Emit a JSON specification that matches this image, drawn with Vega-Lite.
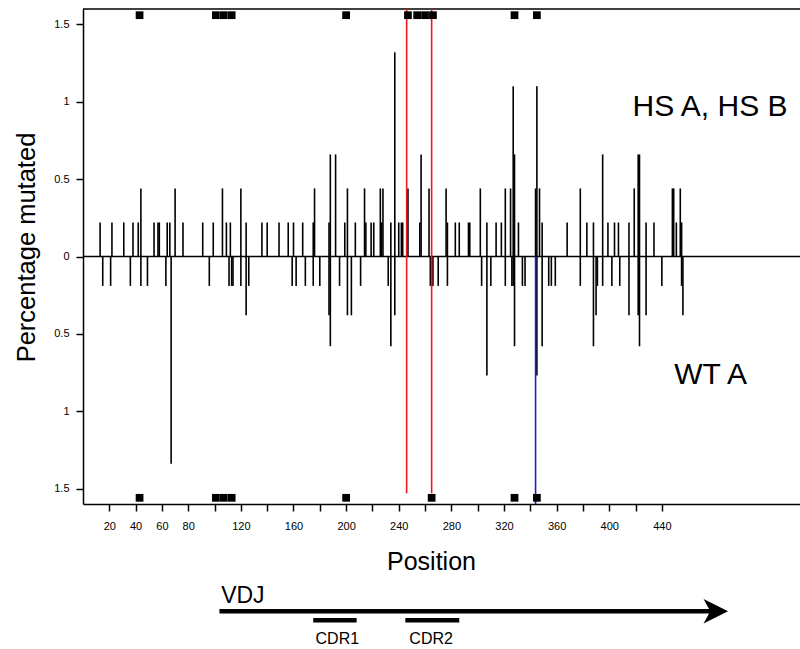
{
  "$schema": "https://vega.github.io/schema/vega-lite/v6.json",
  "width": 717,
  "height": 495,
  "autosize": {"type": "none"},
  "padding": {"left": 83, "top": 9, "right": 0, "bottom": 145},
  "background": "white",
  "config": {
    "view": {"stroke": null},
    "font": "Liberation Sans",
    "axis": {"labelFont": "Liberation Sans", "titleFont": "Liberation Sans", "grid": false, "domainColor": "black", "domainWidth": 1.5, "tickColor": "black", "tickWidth": 1.5, "tickSize": 7, "labelColor": "black", "titleColor": "black", "labelFontSize": 11, "titleFontWeight": "normal"}
  },
  "datasets": {
    "mut": [
      {"pos": 13, "val": 0.22}, {"pos": 22, "val": 0.22}, {"pos": 31, "val": 0.22}, {"pos": 38, "val": 0.22}, {"pos": 42, "val": 0.22}, {"pos": 44, "val": 0.44},
      {"pos": 54, "val": 0.22}, {"pos": 57, "val": 0.22}, {"pos": 58, "val": 0.22}, {"pos": 64, "val": 0.22}, {"pos": 66, "val": 0.22}, {"pos": 70, "val": 0.44},
      {"pos": 76, "val": 0.22}, {"pos": 91, "val": 0.22}, {"pos": 99, "val": 0.22}, {"pos": 106, "val": 0.44}, {"pos": 109, "val": 0.22}, {"pos": 112, "val": 0.22},
      {"pos": 120, "val": 0.44}, {"pos": 124, "val": 0.22}, {"pos": 136, "val": 0.22}, {"pos": 140, "val": 0.22}, {"pos": 149, "val": 0.22}, {"pos": 156, "val": 0.22},
      {"pos": 160, "val": 0.22}, {"pos": 167, "val": 0.22}, {"pos": 175, "val": 0.22}, {"pos": 176, "val": 0.44}, {"pos": 187, "val": 0.22}, {"pos": 188, "val": 0.66},
      {"pos": 192, "val": 0.66}, {"pos": 199, "val": 0.22}, {"pos": 201, "val": 0.44}, {"pos": 207, "val": 0.22}, {"pos": 214, "val": 0.44}, {"pos": 215, "val": 0.22},
      {"pos": 219, "val": 0.22}, {"pos": 221, "val": 0.22}, {"pos": 226, "val": 0.44}, {"pos": 227, "val": 0.22}, {"pos": 228, "val": 0.44}, {"pos": 234, "val": 0.22},
      {"pos": 237, "val": 1.32}, {"pos": 240, "val": 0.22}, {"pos": 242, "val": 0.22}, {"pos": 243, "val": 0.22}, {"pos": 247, "val": 0.44}, {"pos": 256, "val": 0.22},
      {"pos": 257, "val": 0.66}, {"pos": 263, "val": 0.44}, {"pos": 276, "val": 0.44}, {"pos": 277, "val": 0.22}, {"pos": 283, "val": 0.22}, {"pos": 286, "val": 0.22},
      {"pos": 293, "val": 0.22}, {"pos": 294, "val": 0.22}, {"pos": 302, "val": 0.44}, {"pos": 307, "val": 0.22}, {"pos": 314, "val": 0.22}, {"pos": 318, "val": 0.22},
      {"pos": 321, "val": 0.44}, {"pos": 325, "val": 0.44}, {"pos": 327, "val": 1.1}, {"pos": 328, "val": 0.66}, {"pos": 331, "val": 0.22}, {"pos": 344, "val": 0.44},
      {"pos": 345, "val": 1.1}, {"pos": 347, "val": 0.44}, {"pos": 349, "val": 0.22}, {"pos": 368, "val": 0.22}, {"pos": 378, "val": 0.44}, {"pos": 383, "val": 0.22},
      {"pos": 388, "val": 0.22}, {"pos": 395, "val": 0.66}, {"pos": 399, "val": 0.22}, {"pos": 404, "val": 0.22}, {"pos": 407, "val": 0.22}, {"pos": 415, "val": 0.22},
      {"pos": 419, "val": 0.44}, {"pos": 422, "val": 0.66}, {"pos": 423, "val": 0.66}, {"pos": 428, "val": 0.22}, {"pos": 434, "val": 0.22}, {"pos": 448, "val": 0.44},
      {"pos": 449, "val": 0.44}, {"pos": 451, "val": 0.22}, {"pos": 454, "val": 0.44}, {"pos": 455, "val": 0.22},
      {"pos": 15, "val": -0.19}, {"pos": 21, "val": -0.19}, {"pos": 36, "val": -0.19}, {"pos": 44, "val": -0.19}, {"pos": 49, "val": -0.19}, {"pos": 63, "val": -0.19},
      {"pos": 67, "val": -1.34}, {"pos": 96, "val": -0.19}, {"pos": 111, "val": -0.19}, {"pos": 113, "val": -0.19}, {"pos": 114, "val": -0.19}, {"pos": 120, "val": -0.19},
      {"pos": 124, "val": -0.38}, {"pos": 126, "val": -0.19}, {"pos": 159, "val": -0.19}, {"pos": 162, "val": -0.19}, {"pos": 169, "val": -0.19}, {"pos": 175, "val": -0.19},
      {"pos": 180, "val": -0.19}, {"pos": 187, "val": -0.38}, {"pos": 188, "val": -0.58}, {"pos": 195, "val": -0.19}, {"pos": 201, "val": -0.38}, {"pos": 204, "val": -0.38},
      {"pos": 211, "val": -0.19}, {"pos": 232, "val": -0.19}, {"pos": 234, "val": -0.58}, {"pos": 237, "val": -0.38}, {"pos": 264, "val": -0.19}, {"pos": 265, "val": -0.19},
      {"pos": 266, "val": -0.19}, {"pos": 270, "val": -0.19}, {"pos": 277, "val": -0.19}, {"pos": 303, "val": -0.19}, {"pos": 307, "val": -0.77}, {"pos": 310, "val": -0.19},
      {"pos": 321, "val": -0.19}, {"pos": 326, "val": -0.19}, {"pos": 327, "val": -0.19}, {"pos": 328, "val": -0.58}, {"pos": 334, "val": -0.19}, {"pos": 336, "val": -0.19},
      {"pos": 345, "val": -0.77}, {"pos": 349, "val": -0.58}, {"pos": 354, "val": -0.19}, {"pos": 356, "val": -0.19}, {"pos": 359, "val": -0.19}, {"pos": 378, "val": -0.19},
      {"pos": 388, "val": -0.58}, {"pos": 390, "val": -0.38}, {"pos": 391, "val": -0.19}, {"pos": 395, "val": -0.19}, {"pos": 402, "val": -0.19}, {"pos": 408, "val": -0.19},
      {"pos": 415, "val": -0.38}, {"pos": 422, "val": -0.38}, {"pos": 423, "val": -0.58}, {"pos": 428, "val": -0.38}, {"pos": 440, "val": -0.19}, {"pos": 455, "val": -0.19},
      {"pos": 456, "val": -0.38}
    ],
    "frame": [
      {"pos": 0, "pos2": 545, "val": 0},
      {"pos": 0, "pos2": 545, "val": 1.6}
    ],
    "hotspots": [
      {"pos": 43, "val": 1.56}, {"pos": 101, "val": 1.56}, {"pos": 107, "val": 1.56}, {"pos": 113, "val": 1.56}, {"pos": 200, "val": 1.56}, {"pos": 247, "val": 1.56},
      {"pos": 254, "val": 1.56}, {"pos": 260, "val": 1.56}, {"pos": 266, "val": 1.56}, {"pos": 328, "val": 1.56}, {"pos": 345, "val": 1.56},
      {"pos": 43, "val": -1.56}, {"pos": 101, "val": -1.56}, {"pos": 107, "val": -1.56}, {"pos": 113, "val": -1.56}, {"pos": 200, "val": -1.56}, {"pos": 265, "val": -1.56},
      {"pos": 328, "val": -1.56}, {"pos": 345, "val": -1.56}
    ],
    "marks": [
      {"pos": 246, "val": 1.6, "val2": -1.53, "group": "HS"},
      {"pos": 265, "val": 1.6, "val2": -1.53, "group": "HS"},
      {"pos": 344, "val": 0, "val2": -1.6, "group": "WT"}
    ],
    "labels": [
      {"label": "HS A, HS B", "pos": 476.6, "val": 0.907},
      {"label": "WT A", "pos": 477, "val": -0.825}
    ],
    "segments": [
      {"part": "VDJ", "pos": 103.7, "pos2": 482, "val": -2.293},
      {"part": "CDR1", "pos": 175, "pos2": 208, "val": -2.351},
      {"part": "CDR2", "pos": 245, "pos2": 286, "val": -2.351}
    ],
    "arrowhead": [{"pos": 481, "val": -2.293}],
    "genelabel": [{"label": "VDJ", "pos": 105, "val": -2.241}],
    "cdrlabels": [
      {"label": "CDR1", "pos": 193.3, "val": -2.506},
      {"label": "CDR2", "pos": 264.6, "val": -2.506}
    ]
  },
  "encoding": {
    "x": {
      "field": "pos", "type": "quantitative",
      "scale": {"domain": [0, 545], "nice": false, "zero": false},
      "title": "Position",
      "axis": {
        "values": [20, 40, 60, 80, 100, 120, 140, 160, 180, 200, 220, 240, 260, 280, 300, 320, 340, 360, 380, 400, 420, 440],
        "labelExpr": "datum.value <= 80 || datum.value % 40 == 0 ? datum.label : ''",
        "labelPadding": 9, "labelFlush": false, "labelOverlap": false,
        "titleFontSize": 25, "titleX": 348, "titleY": 65, "titleBaseline": "alphabetic", "titleAlign": "center"
      }
    },
    "y": {
      "field": "val", "type": "quantitative",
      "scale": {"domain": [-1.6, 1.6], "nice": false, "zero": false},
      "title": "Percentage mutated",
      "axis": {
        "values": [-1.5, -1, -0.5, 0, 0.5, 1, 1.5],
        "labelExpr": "toString(abs(datum.value))",
        "labelPadding": 7, "labelOverlap": false, "labelFlush": false,
        "titleFontSize": 25.5, "titleX": -49, "titleY": 238, "titleBaseline": "alphabetic", "titleAlign": "center", "titleAngle": -90
      }
    }
  },
  "layer": [
    {
      "data": {"name": "mut"},
      "mark": {"type": "rule", "color": "black", "strokeWidth": 1.6},
      "encoding": {"y2": {"datum": 0}}
    },
    {
      "data": {"name": "frame"},
      "mark": {"type": "rule", "color": "black", "strokeWidth": 1.5},
      "encoding": {"x2": {"field": "pos2"}}
    },
    {
      "data": {"name": "marks"},
      "mark": {"type": "rule", "strokeWidth": 1.6},
      "encoding": {
        "y2": {"field": "val2"},
        "color": {"field": "group", "type": "nominal", "scale": {"domain": ["HS", "WT"], "range": ["#f01818", "#1c1ccc"]}, "legend": null}
      }
    },
    {
      "data": {"name": "hotspots"},
      "mark": {"type": "point", "shape": "square", "filled": true, "color": "black", "opacity": 1, "size": 60}
    },
    {
      "data": {"name": "labels"},
      "mark": {"type": "text", "fontSize": 30, "align": "center", "baseline": "alphabetic", "color": "black", "font": "Liberation Sans"},
      "encoding": {"text": {"field": "label"}}
    },
    {
      "data": {"name": "segments"},
      "mark": {"type": "rule", "color": "black", "strokeWidth": 4.5},
      "encoding": {"x2": {"field": "pos2"}}
    },
    {
      "data": {"name": "arrowhead"},
      "mark": {"type": "point", "shape": "M -1 -1 L 1 0 L -1 1 L -0.45 0 Z", "filled": true, "color": "black", "opacity": 1, "size": 600}
    },
    {
      "data": {"name": "genelabel"},
      "mark": {"type": "text", "fontSize": 23, "align": "left", "baseline": "alphabetic", "color": "black", "font": "Liberation Sans"},
      "encoding": {"text": {"field": "label"}}
    },
    {
      "data": {"name": "cdrlabels"},
      "mark": {"type": "text", "fontSize": 16, "align": "center", "baseline": "alphabetic", "color": "black", "font": "Liberation Sans"},
      "encoding": {"text": {"field": "label"}}
    }
  ]
}
